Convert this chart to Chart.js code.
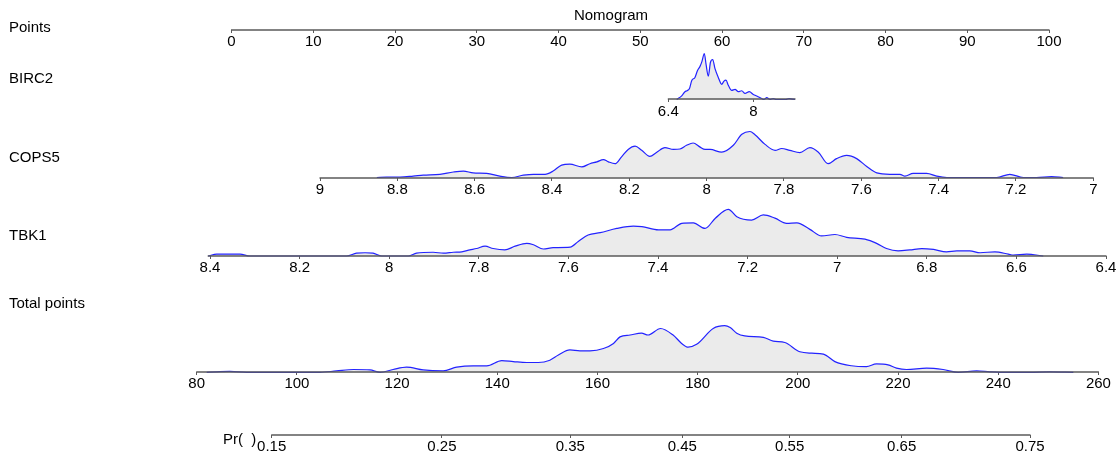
<!DOCTYPE html>
<html>
<head>
<meta charset="utf-8">
<script src="https://cdn.jsdelivr.net/npm/chart.js@4.4.1/dist/chart.umd.min.js"></script>
<style>
  html, body { margin: 0; padding: 0; background: #fff; }
  canvas { display: block; }
</style>
</head>
<body>
<canvas id="nomogram" width="1118" height="459"></canvas>
<script>
// Nomogram with density strips per predictor (regplot style).
const chartTitle = 'Nomogram';
const rowLabels = ['Points', 'BIRC2', 'COPS5', 'TBK1', 'Total points'];
const prLabel = 'Pr(  )';

// tick values per axis
const pointsTicks = [0, 10, 20, 30, 40, 50, 60, 70, 80, 90, 100];
const birc2Ticks = [6.4, 8];
const cops5Ticks = [9, 8.8, 8.6, 8.4, 8.2, 8, 7.8, 7.6, 7.4, 7.2, 7];
const tbk1Ticks = [8.4, 8.2, 8, 7.8, 7.6, 7.4, 7.2, 7, 6.8, 6.6, 6.4];
const totalTicks = [80, 100, 120, 140, 160, 180, 200, 220, 240, 260];
const prTicks = [0.15, 0.25, 0.35, 0.45, 0.55, 0.65, 0.75];

// density curves (expression value, relative density)
const birc2X = [6.558, 6.652, 6.714, 6.752, 6.799, 6.840, 6.902, 6.950, 6.997, 7.034, 7.078, 7.110, 7.153,
  7.194, 7.236, 7.279, 7.341, 7.405, 7.448, 7.486, 7.529, 7.593, 7.656, 7.718, 7.782, 7.844, 7.925, 8.000,
  8.075, 8.158, 8.201, 8.252, 8.314, 8.376, 8.427, 8.615, 8.672, 8.728, 8.785];
const birc2D = [0, 0.08, 0.17, 0.19, 0.24, 0.41, 0.48, 0.63, 0.72, 0.83, 1.0, 0.77, 0.51,
  0.81, 0.87, 0.67, 0.48, 0.33, 0.40, 0.42, 0.31, 0.20, 0.22, 0.17, 0.19, 0.13, 0.17, 0.11,
  0.07, 0.02, 0, 0.04, 0, 0.02, 0, 0, 0.02, 0.01, 0];

const cops5X = [8.853, 8.828, 8.793, 8.759, 8.733, 8.690, 8.655, 8.629, 8.604, 8.569, 8.535, 8.504, 8.474,
  8.448, 8.418, 8.397, 8.375, 8.354, 8.323, 8.302, 8.284, 8.267, 8.254, 8.237, 8.220, 8.203, 8.185, 8.168,
  8.147, 8.129, 8.108, 8.086, 8.069, 8.052, 8.035, 8.017, 8.004, 7.991, 7.961, 7.931, 7.909, 7.888, 7.875,
  7.849, 7.823, 7.806, 7.785, 7.759, 7.733, 7.711, 7.686, 7.664, 7.638, 7.612, 7.586, 7.560, 7.526, 7.500,
  7.487, 7.466, 7.431, 7.405, 7.379, 7.250, 7.216, 7.181, 7.147, 7.108, 7.078];
const cops5D = [0, 0.01, 0.01, 0.03, 0.05, 0.07, 0.12, 0.14, 0.10, 0.09, 0.03, 0, 0.05,
  0.07, 0.07, 0.14, 0.27, 0.29, 0.23, 0.30, 0.34, 0.39, 0.34, 0.30, 0.45, 0.61, 0.68, 0.59,
  0.46, 0.55, 0.65, 0.61, 0.62, 0.70, 0.75, 0.66, 0.61, 0.61, 0.55, 0.70, 0.94, 1.0, 0.93,
  0.72, 0.59, 0.63, 0.59, 0.54, 0.65, 0.55, 0.30, 0.41, 0.48, 0.41, 0.24, 0.10, 0.07, 0.07,
  0.03, 0.09, 0.09, 0.03, 0, 0, 0.07, 0, 0, 0.02, 0];

const tbk1X = [8.404, 8.385, 8.355, 8.333, 8.311, 8.095, 8.073, 8.054, 8.036, 8.017, 7.957, 7.939, 7.902,
  7.879, 7.857, 7.838, 7.820, 7.805, 7.786, 7.768, 7.742, 7.719, 7.693, 7.678, 7.656, 7.634, 7.596, 7.578,
  7.556, 7.529, 7.492, 7.455, 7.436, 7.399, 7.373, 7.347, 7.321, 7.295, 7.272, 7.243, 7.224, 7.191, 7.165,
  7.139, 7.113, 7.090, 7.061, 7.035, 7.005, 6.979, 6.938, 6.912, 6.890, 6.864, 6.838, 6.811, 6.785, 6.756,
  6.733, 6.704, 6.681, 6.648, 6.618, 6.607, 6.577, 6.540];
const tbk1D = [0, 0.04, 0.04, 0.04, 0, 0, 0.06, 0.07, 0.06, 0, 0, 0.06, 0.08,
  0.06, 0.08, 0.09, 0.13, 0.16, 0.21, 0.16, 0.13, 0.21, 0.27, 0.24, 0.15, 0.18, 0.19, 0.31,
  0.45, 0.50, 0.59, 0.64, 0.63, 0.56, 0.56, 0.70, 0.71, 0.59, 0.81, 1.0, 0.84, 0.77, 0.88,
  0.81, 0.70, 0.71, 0.57, 0.43, 0.46, 0.40, 0.36, 0.27, 0.16, 0.11, 0.13, 0.16, 0.14, 0.09,
  0.11, 0.11, 0.07, 0.09, 0.04, 0.02, 0.04, 0];

const totalX = [82.0, 84.0, 86.6, 90.0, 104.6, 107.9, 111.3, 114.6, 116.6, 119.2, 121.9, 125.2, 129.2,
  131.9, 135.2, 137.9, 140.9, 143.2, 145.9, 148.2, 150.5, 152.2, 154.5, 156.5, 158.5, 161.2, 163.2, 164.5,
  166.5, 168.8, 170.1, 172.6, 175.1, 176.8, 178.1, 179.8, 183.1, 185.4, 186.5, 187.8, 189.4, 193.1, 195.1,
  197.4, 200.4, 202.8, 205.1, 207.4, 210.7, 213.7, 215.7, 218.0, 219.7, 221.7, 225.7, 229.0, 232.0, 235.7,
  238.3, 240.3, 246.3, 250.3, 255.0];
const totalD = [0, 0.01, 0.02, 0, 0, 0.03, 0.06, 0.05, 0, 0.06, 0.11, 0.05, 0.03,
  0.11, 0.14, 0.14, 0.25, 0.23, 0.21, 0.21, 0.26, 0.37, 0.48, 0.46, 0.46, 0.51, 0.62, 0.76,
  0.80, 0.84, 0.80, 0.94, 0.80, 0.62, 0.54, 0.60, 0.94, 1.0, 0.96, 0.84, 0.78, 0.75, 0.67,
  0.64, 0.44, 0.41, 0.39, 0.23, 0.14, 0.12, 0.18, 0.16, 0.09, 0.06, 0.09, 0.06, 0, 0.03,
  0.01, 0, 0, 0.01, 0];

// ---- layout (pixels on the 1118x459 canvas) ----
const W = 1118, H = 459;
const AXIS_COLOR = '#5a5a5a';
const LINE_COLOR = 'rgb(35,35,255)';
const FILL_COLOR = '#ebebeb';
const FONT = 'Arial, "Liberation Sans", sans-serif';
const FONT_SIZE = 15;

const logit = (p) => Math.log(p / (1 - p));

// hidden y scale per row: value 0 sits on the row baseline, 1 at the density peak
function rowScale(base, peak) {
  const span = base - peak;
  const max = base / span;
  return { type: 'linear', axis: 'y', position: 'left', display: false, bounds: 'data', min: max - H / span, max };
}

// x scale from two value->pixel anchors, stretched over the full canvas width
function axisScale(rowId, ticks, v0, p0, v1, p1, fmt) {
  const s = (v1 - v0) / (p1 - p0);
  const a = v0 - p0 * s, b = v0 + (W - p0) * s;
  return {
    type: 'linear', axis: 'x', bounds: 'data',
    min: Math.min(a, b), max: Math.max(a, b), reverse: s < 0,
    position: { [rowId]: 0 },
    border: { display: false },
    grid: { drawOnChartArea: false, drawTicks: true, tickLength: 3, color: AXIS_COLOR, lineWidth: 1 },
    afterBuildTicks: (scale) => { scale.ticks = ticks.map((v) => ({ value: v })); },
    ticks: {
      autoSkip: false, maxRotation: 0, minRotation: 0, padding: 0, color: '#000',
      font: { family: FONT, size: FONT_SIZE },
      callback: (v, i) => fmt(i),
    },
  };
}

const num = (arr) => (i) => String(+arr[i].toFixed(2));

const scales = {
  yP: rowScale(30, -17),
  yB: rowScale(99.5, 53.5),
  yC: rowScale(177.5, 131.5),
  yT: rowScale(256, 209.3),
  yTot: rowScale(372.3, 325.7),
  yPr: rowScale(435, 388),
  xP: axisScale('yP', pointsTicks, 0, 231.5, 100, 1049, num(pointsTicks)),
  xB: axisScale('yB', birc2Ticks, 6.4, 668.3, 8, 753.3, num(birc2Ticks)),
  xC: axisScale('yC', cops5Ticks, 9, 320, 7, 1093.3, num(cops5Ticks)),
  xT: axisScale('yT', tbk1Ticks, 8.4, 210, 6.4, 1106, num(tbk1Ticks)),
  xTot: axisScale('yTot', totalTicks, 80, 196.7, 260, 1098.4, num(totalTicks)),
  xPr: axisScale('yPr', prTicks.map(logit), logit(0.15), 271.7, logit(0.75), 1030, (i) => prTicks[i].toFixed(2)),
};

// axis segments: span of ticks plus density data
const axisRows = [
  { x: 'xP', y: 'yP', vals: pointsTicks },
  { x: 'xB', y: 'yB', vals: birc2Ticks.concat(birc2X) },
  { x: 'xC', y: 'yC', vals: cops5Ticks.concat(cops5X) },
  { x: 'xT', y: 'yT', vals: tbk1Ticks.concat(tbk1X) },
  { x: 'xTot', y: 'yTot', vals: totalTicks.concat(totalX) },
  { x: 'xPr', y: 'yPr', vals: prTicks.map(logit) },
];

const labelRows = [28, 79, 158, 236, 304];

function density(xs, ds, xId, yId) {
  return {
    data: xs.map((x, i) => ({ x, y: ds[i] })),
    xAxisID: xId, yAxisID: yId,
    borderColor: LINE_COLOR, borderWidth: 1.2,
    backgroundColor: FILL_COLOR,
    fill: { value: 0 },
    pointRadius: 0, pointHoverRadius: 0,
    cubicInterpolationMode: 'monotone',
  };
}

const nomoPlugin = {
  id: 'nomo',
  afterDatasetsDraw(chart) {
    const ctx = chart.ctx;
    ctx.save();
    ctx.strokeStyle = AXIS_COLOR;
    ctx.lineWidth = 1.5;
    axisRows.forEach((r) => {
      const xs = chart.scales[r.x], ys = chart.scales[r.y];
      const y = Math.round(ys.getPixelForValue(0));
      const p1 = xs.getPixelForValue(Math.min(...r.vals));
      const p2 = xs.getPixelForValue(Math.max(...r.vals));
      ctx.beginPath();
      ctx.moveTo(Math.min(p1, p2) - 0.5, y);
      ctx.lineTo(Math.max(p1, p2) + 0.5, y);
      ctx.stroke();
    });

    ctx.fillStyle = '#000';
    ctx.font = FONT_SIZE + 'px ' + FONT;
    ctx.textBaseline = 'middle';
    ctx.textAlign = 'left';
    rowLabels.forEach((t, i) => ctx.fillText(t, 9, labelRows[i]));
    ctx.fillText(prLabel, 223, 440);
    ctx.textAlign = 'center';
    ctx.fillText(chartTitle, 611, 16);
    ctx.restore();
  },
};

new Chart(document.getElementById('nomogram'), {
  type: 'line',
  data: {
    datasets: [
      density(birc2X, birc2D, 'xB', 'yB'),
      density(cops5X, cops5D, 'xC', 'yC'),
      density(tbk1X, tbk1D, 'xT', 'yT'),
      density(totalX, totalD, 'xTot', 'yTot'),
    ],
  },
  options: {
    responsive: false,
    animation: false,
    layout: { padding: 0 },
    plugins: { legend: { display: false }, tooltip: { enabled: false }, title: { display: false } },
    scales,
  },
  plugins: [nomoPlugin],
});
</script>
</body>
</html>
